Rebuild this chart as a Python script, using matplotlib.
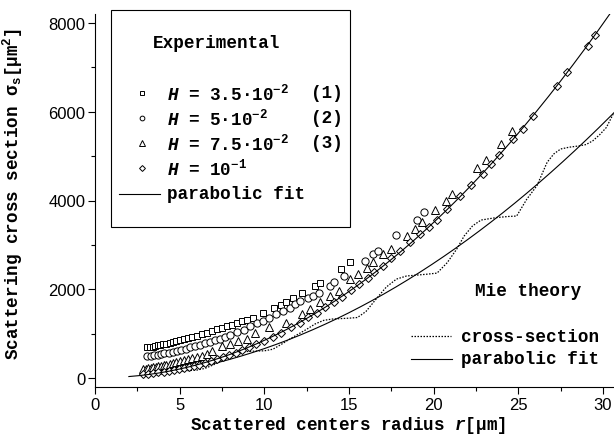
import numpy as np
import matplotlib
matplotlib.use('Agg')
import matplotlib.pyplot as plt
from matplotlib.ticker import MultipleLocator
from matplotlib.patches import Rectangle
from matplotlib.lines import Line2D

plt.rcParams['mathtext.fontset'] = 'custom'
plt.rcParams['mathtext.rm'] = 'Liberation Mono:bold'
plt.rcParams['mathtext.it'] = 'Liberation Mono:italic:bold'
plt.rcParams['mathtext.bf'] = 'Liberation Mono:bold'
plt.rcParams['font.family'] = ['Liberation Sans', 'DejaVu Sans']

# ---------------- data ----------------
r1 = [3.1, 3.25, 3.4, 3.55, 3.7, 3.85, 4.0, 4.2, 4.4, 4.6, 4.8, 5.0, 5.25, 5.5, 5.75, 6.0,
      6.3, 6.6, 6.9, 7.2, 7.5, 7.8, 8.1, 8.4, 8.7, 9.0, 9.35, 9.94, 10.6, 11.0, 11.3, 11.7,
      12.2, 13.0, 13.3, 14.5, 15.06]
s1 = [690, 700, 712, 722, 735, 745, 758, 775, 792, 810, 828, 848, 872, 900, 930, 958,
      990, 1025, 1060, 1095, 1130, 1165, 1200, 1240, 1280, 1320, 1365, 1460, 1590, 1650, 1716, 1815,
      1925, 2075, 2150, 2455, 2605]

r2 = [3.1, 3.3, 3.5, 3.7, 3.9, 4.1, 4.35, 4.6, 4.85, 5.1, 5.35, 5.6, 5.9, 6.2, 6.5, 6.8,
      7.1, 7.4, 7.7, 8.0, 8.37, 8.8, 9.15, 9.55, 9.94, 10.3, 10.7, 11.1, 11.5, 11.8, 12.1,
      12.6, 12.9, 13.2, 13.9, 14.1, 14.7, 15.95, 16.4, 16.7, 17.8, 19.0, 19.45]
s2 = [490, 500, 512, 525, 540, 555, 575, 595, 615, 640, 665, 690, 720, 752, 785, 820,
      850, 880, 915, 960, 1030, 1090, 1180, 1240, 1290, 1365, 1440, 1515, 1590, 1665, 1740,
      1795, 1850, 1925, 2065, 2170, 2290, 2640, 2790, 2865, 3220, 3565, 3730]

r3 = [2.85, 3.0, 3.15, 3.3, 3.45, 3.6, 3.75, 3.9, 4.05, 4.2, 4.4, 4.6, 4.8, 5.0, 5.25, 5.5,
      5.75, 6.0, 6.3, 6.6, 6.9, 7.48, 7.96, 8.46, 8.96, 9.45, 10.3, 11.3, 12.2, 12.7, 13.3,
      13.9, 14.4, 15.06, 15.55, 16.05, 16.4, 17.0, 17.5, 18.4, 18.9, 19.3, 20.1, 20.7, 21.1,
      22.58, 23.09, 23.96, 24.6]
s3 = [205, 215, 225, 235, 245, 255, 265, 278, 290, 302, 318, 335, 355, 375, 400, 425,
      450, 475, 505, 540, 600, 727, 765, 840, 890, 1025, 1140, 1250, 1440, 1555, 1705,
      1840, 1965, 2230, 2340, 2490, 2620, 2790, 2905, 3205, 3355, 3505, 3780, 3995, 4145,
      4730, 4910, 5280, 5555]

r4 = [2.85, 3.15, 3.45, 3.75, 4.05, 4.35, 4.65, 4.95, 5.25, 5.55, 5.85, 6.15, 6.5, 6.85,
      7.2, 7.55, 7.9, 8.3, 8.7, 9.1, 9.5, 10.0, 10.5, 11.0, 11.6, 12.1, 12.6, 13.1, 13.6,
      14.1, 14.6, 15.1, 15.6, 16.1, 16.5, 17.0, 17.5, 18.0, 18.6, 19.2, 19.7, 20.2, 20.8,
      21.56, 22.2, 22.9, 23.4, 23.87, 24.7, 25.26, 25.85, 27.3, 27.9, 29.1, 29.5]
s4 = [90, 100, 115, 130, 145, 160, 180, 200, 225, 250, 275, 300, 340, 380,
      420, 465, 515, 570, 630, 695, 760, 830, 930, 1010, 1140, 1250, 1370, 1470, 1600,
      1720, 1830, 1980, 2110, 2260, 2380, 2530, 2700, 2860, 3060, 3245, 3410, 3565, 3800,
      4105, 4350, 4600, 4820, 5030, 5380, 5620, 5910, 6575, 6890, 7480, 7725]

# Mie theory cross-section
r_mie = [3.0, 3.5, 4.0, 4.5, 5.0, 5.5, 6.0, 6.5, 7.0, 7.5, 8.0, 8.5, 9.0, 9.5, 10.0, 10.5,
         11.0, 11.5, 12.0, 12.5, 13.0, 13.5, 14.0, 14.5, 15.0, 15.5, 16.0, 16.6, 17.2, 17.8,
         18.4, 19.0, 19.6, 20.2, 20.8, 21.36, 21.8, 22.3, 22.8, 23.7, 24.4, 24.9, 25.5, 26.1,
         26.7, 27.1, 27.5, 28.0, 28.6, 29.0, 29.4, 29.8, 30.2, 30.6]
s_mie = [60, 80, 110, 140, 160, 170, 180, 220, 300, 400, 500, 570, 600, 610, 615, 650,
         760, 880, 990, 1100, 1220, 1300, 1330, 1340, 1350, 1365, 1500, 1780, 2050, 2230,
         2300, 2320, 2340, 2365, 2600, 2905, 3200, 3430, 3560, 3615, 3640, 3650, 4030, 4335,
         4860, 5050, 5160, 5200, 5230, 5260, 5345, 5480, 5645, 5945]

xticks = [0, 5, 10, 15, 20, 25, 30]
yticks = [0, 2000, 4000, 6000, 8000]

# ---------------- figure ----------------
W, H = 614, 435
fig = plt.figure(figsize=(W / 100, H / 100), dpi=100)
ax = fig.add_axes([95 / W, 47 / H, (W - 95) / W, (388 - 15) / H])

def fx(px):
    return px / W

def fy(py):
    return 1 - py / H

mk = dict(linestyle='none', mfc='white', mec='black', mew=0.7)
ax.plot(r1, s1, marker='s', ms=4.8, **mk, zorder=3)
ax.plot(r2, s2, marker='o', ms=5.2, **mk, zorder=3)
ax.plot(r3, s3, marker='^', ms=5.5, **mk, zorder=3)
ax.plot(r4, s4, marker='D', ms=4.0, **mk, zorder=3)

# parabolic fit of the experimental data (series 4)
c4 = np.polyfit(r4, s4, 2)
rf4 = np.linspace(2.0, 31.0, 200)
ax.plot(rf4, np.polyval(c4, rf4), color='black', lw=0.8, zorder=4)

# Mie theory
ax.plot(r_mie, s_mie, color='black', lw=0.9, linestyle=(0, (1.2, 1.2)), zorder=2)
cm = np.polyfit(r_mie, s_mie, 2)
rfm = np.linspace(r_mie[0], 31.0, 200)
ax.plot(rfm, np.polyval(cm, rfm), color='black', lw=0.8, zorder=2)

ax.set_xlim(0, 30.65)
ax.set_ylim(-200, 8200)
ax.set_xticks(xticks)
ax.set_yticks(yticks)
ax.xaxis.set_minor_locator(MultipleLocator(2.5))
ax.yaxis.set_minor_locator(MultipleLocator(1000))
ax.tick_params(which='major', direction='out', length=5, width=0.8, labelsize=12, pad=2)
ax.tick_params(which='minor', direction='out', length=3, width=0.8)
for s in ['top', 'right']:
    ax.spines[s].set_visible(False)
for s in ['left', 'bottom']:
    ax.spines[s].set_linewidth(0.8)

mono = dict(family=['Liberation Mono', 'DejaVu Sans'], weight='bold', size=12.7)
ax.set_xlabel(r'Scattered centers radius $\mathit{r}$[μm]', **mono)
ax.xaxis.set_label_coords(0.487, -0.072)
ax.set_ylabel(r'Scattering cross section σ$_\mathrm{s}$[μm$^\mathrm{2}$]', **mono)
ax.yaxis.set_label_coords(-0.135, 0.52)

# ---- Experimental legend box ----
fig.patches.append(Rectangle((fx(111), fy(228)), fx(350) - fx(111), fy(11) - fy(228),
                             transform=fig.transFigure, facecolor='white',
                             edgecolor='black', lw=0.8, zorder=5))
fig.text(fx(217), fy(43), 'Experimental', ha='center', va='center', zorder=6, **mono)
leg_mk = ['s', 'o', '^', 'D']
leg_ms = [3.2, 3.4, 3.8, 3.0]
leg_lbl = [r'$H$ = 3.5·10$^{-2}$', r'$H$ = 5·10$^{-2}$', r'$H$ = 7.5·10$^{-2}$', r'$H$ = 10$^{-1}$']
leg_num = ['(1)', '(2)', '(3)', '']
leg_y = [94, 119, 144, 169]
for m, ms_, lb, nm, yy in zip(leg_mk, leg_ms, leg_lbl, leg_num, leg_y):
    fig.add_artist(Line2D([fx(141.5)], [fy(yy)], marker=m, ms=ms_, linestyle='none',
                          mfc='white', mec='black', mew=0.7, transform=fig.transFigure, zorder=6))
    fig.text(fx(167), fy(yy), lb, ha='left', va='center', zorder=6, **mono)
    if nm:
        fig.text(fx(311), fy(yy), nm, ha='left', va='center', zorder=6, **mono)
fig.add_artist(Line2D([fx(119), fx(160)], [fy(195), fy(195)], color='black', lw=0.8,
                      transform=fig.transFigure, zorder=6))
fig.text(fx(167), fy(195), 'parabolic fit', ha='left', va='center', zorder=6, **mono)

# ---- Mie legend ----
fig.text(fx(528), fy(291), 'Mie theory', ha='center', va='center', **mono)
fig.add_artist(Line2D([fx(411), fx(451)], [fy(337), fy(337)], color='black', lw=0.9,
                      linestyle=(0, (1.2, 1.2)), transform=fig.transFigure))
fig.text(fx(461), fy(337), 'cross-section', ha='left', va='center', **mono)
fig.add_artist(Line2D([fx(411), fx(452)], [fy(360), fy(360)], color='black', lw=0.8,
                      transform=fig.transFigure))
fig.text(fx(461), fy(360), 'parabolic fit', ha='left', va='center', **mono)

fig.savefig('out.png', dpi=100)
